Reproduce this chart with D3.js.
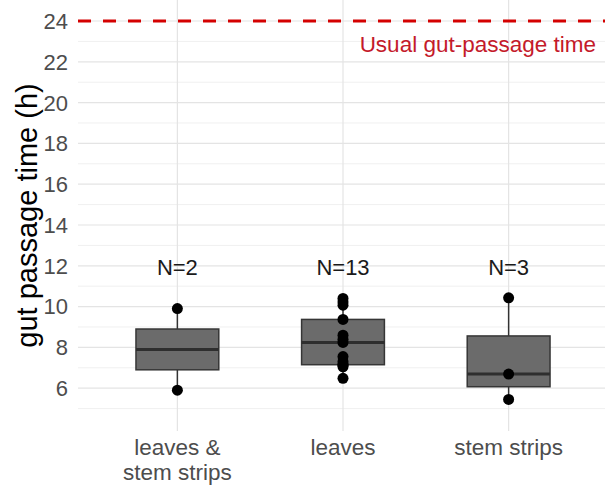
<!DOCTYPE html>
<html>
<head>
<meta charset="utf-8">
<script src="https://cdn.jsdelivr.net/npm/d3@7"></script>
<style>
  html, body { margin: 0; padding: 0; background: #fff; }
  svg { display: block; font-family: Arial, "Liberation Sans", sans-serif; }
</style>
</head>
<body>
<div id="chart"></div>
<script>
// categories and their (wrapped) axis labels
const categories = ['leaves & stem strips', 'leaves', 'stem strips'];
const categoryLabels = [['leaves &', 'stem strips'], ['leaves'], ['stem strips']];

// gut passage times (h), one array per group
const mixedTimes = [5.9, 9.9];
const leavesTimes = [6.48, 7.05, 7.13, 7.15, 7.3, 7.55, 8.24, 8.4, 8.6, 9.37, 10.07, 10.23, 10.4];
const stemTimes = [5.45, 6.69, 10.43];

const yTicks = [6, 8, 10, 12, 14, 16, 18, 20, 22, 24];
const yMinorTicks = [5, 7, 9, 11, 13, 15, 17, 19, 21, 23];
const usualTime = 24;
const usualLabel = 'Usual gut-passage time';
const nLabelValue = 11.55;

const WIDTH = 605;
const HEIGHT = 487;
const panel = { left: 78, right: 608, top: 0, bottom: 431 };

const groups = categories.map((c, i) => ({
	name: c,
	lines: categoryLabels[i],
	values: [mixedTimes, leavesTimes, stemTimes][i].slice().sort(d3.ascending)
}));

// boxplot stats, same quantile type as R's default
groups.forEach(g => {
	const v = g.values;
	g.q1 = d3.quantile(v, 0.25);
	g.med = d3.quantile(v, 0.5);
	g.q3 = d3.quantile(v, 0.75);
	const iqr = g.q3 - g.q1;
	g.lo = d3.min(v.filter(d => d >= g.q1 - 1.5 * iqr));
	g.hi = d3.max(v.filter(d => d <= g.q3 + 1.5 * iqr));
});

const svg = d3.select('#chart')
	.append('svg')
	.attr('width', WIDTH)
	.attr('height', HEIGHT);

const x = d3.scalePoint()
	.domain(categories)
	.range([panel.left, panel.right])
	.padding(0.6);

const y = d3.scaleLinear()
	.domain([3.9, 25.03])
	.range([panel.bottom, panel.top]);

const boxW = x.step() * 0.5;

// grid
const grid = svg.append('g');
grid.selectAll('line.minor')
	.data(yMinorTicks)
	.join('line')
	.attr('class', 'minor')
	.attr('x1', panel.left).attr('x2', WIDTH)
	.attr('y1', d => y(d)).attr('y2', d => y(d))
	.attr('stroke', '#f0f0f0')
	.attr('stroke-width', 1);
grid.selectAll('line.major')
	.data(yTicks)
	.join('line')
	.attr('class', 'major')
	.attr('x1', panel.left).attr('x2', WIDTH)
	.attr('y1', d => y(d)).attr('y2', d => y(d))
	.attr('stroke', '#e4e4e4')
	.attr('stroke-width', 1.2);
grid.selectAll('line.vert')
	.data(categories)
	.join('line')
	.attr('class', 'vert')
	.attr('x1', d => x(d)).attr('x2', d => x(d))
	.attr('y1', panel.top).attr('y2', panel.bottom)
	.attr('stroke', '#e4e4e4')
	.attr('stroke-width', 1.2);

// y axis labels
svg.append('g')
	.selectAll('text')
	.data(yTicks)
	.join('text')
	.attr('x', 68)
	.attr('y', d => y(d))
	.attr('dy', '0.36em')
	.attr('text-anchor', 'end')
	.attr('fill', '#4d4d4d')
	.attr('font-size', 22)
	.text(d => d);

svg.append('text')
	.attr('transform', `translate(37, ${(panel.top + panel.bottom) / 2}) rotate(-90)`)
	.attr('text-anchor', 'middle')
	.attr('fill', '#000')
	.attr('font-size', 29)
	.text('gut passage time (h)');

// x axis labels
svg.append('g')
	.selectAll('text')
	.data(groups)
	.join('text')
	.attr('x', d => x(d.name))
	.attr('y', 455)
	.attr('text-anchor', 'middle')
	.attr('fill', '#4d4d4d')
	.attr('font-size', 22.5)
	.selectAll('tspan')
	.data(d => d.lines.map(l => ({ l, cx: x(d.name) })))
	.join('tspan')
	.attr('x', d => d.cx)
	.attr('dy', (d, i) => i === 0 ? 0 : 25)
	.text(d => d.l);

// usual passage time reference line
svg.append('line')
	.attr('x1', panel.left).attr('x2', WIDTH)
	.attr('y1', y(usualTime)).attr('y2', y(usualTime))
	.attr('stroke', '#d40000')
	.attr('stroke-width', 3)
	.attr('stroke-dasharray', '13 12');

svg.append('text')
	.attr('x', 596)
	.attr('y', 52)
	.attr('text-anchor', 'end')
	.attr('fill', '#c41a2a')
	.attr('font-size', 22.5)
	.text(usualLabel);

// boxes
const box = svg.append('g')
	.selectAll('g')
	.data(groups)
	.join('g');

box.append('line')
	.attr('x1', d => x(d.name)).attr('x2', d => x(d.name))
	.attr('y1', d => y(d.hi)).attr('y2', d => y(d.q3))
	.attr('stroke', '#333')
	.attr('stroke-width', 1.5);
box.append('line')
	.attr('x1', d => x(d.name)).attr('x2', d => x(d.name))
	.attr('y1', d => y(d.q1)).attr('y2', d => y(d.lo))
	.attr('stroke', '#333')
	.attr('stroke-width', 1.5);
box.append('rect')
	.attr('x', d => x(d.name) - boxW / 2)
	.attr('width', boxW)
	.attr('y', d => y(d.q3))
	.attr('height', d => y(d.q1) - y(d.q3))
	.attr('fill', '#6b6b6b')
	.attr('stroke', '#363636')
	.attr('stroke-width', 1.5);
box.append('line')
	.attr('x1', d => x(d.name) - boxW / 2).attr('x2', d => x(d.name) + boxW / 2)
	.attr('y1', d => y(d.med)).attr('y2', d => y(d.med))
	.attr('stroke', '#2e2e2e')
	.attr('stroke-width', 3);

// raw points
box.selectAll('circle')
	.data(d => d.values.map(v => ({ v, name: d.name })))
	.join('circle')
	.attr('cx', d => x(d.name))
	.attr('cy', d => y(d.v))
	.attr('r', 5.5)
	.attr('fill', '#000');

// sample sizes
svg.append('g')
	.selectAll('text')
	.data(groups)
	.join('text')
	.attr('x', d => x(d.name))
	.attr('y', y(nLabelValue))
	.attr('text-anchor', 'middle')
	.attr('fill', '#1a1a1a')
	.attr('font-size', 22)
	.text(d => `N=${d.values.length}`);
</script>
</body>
</html>
